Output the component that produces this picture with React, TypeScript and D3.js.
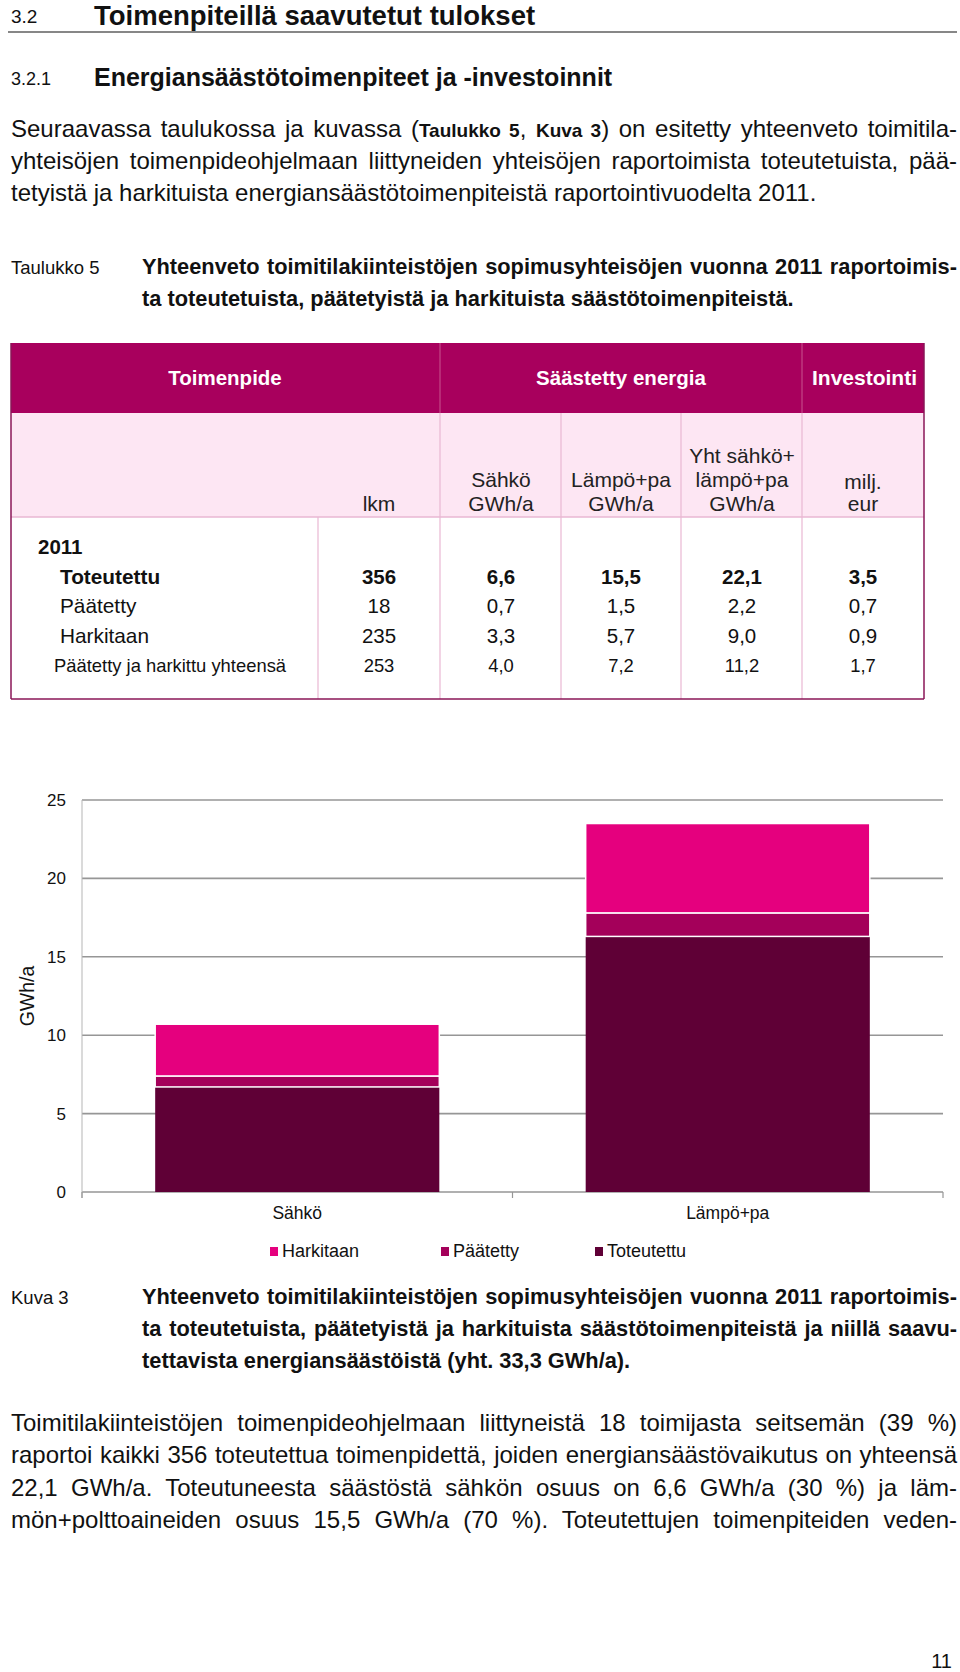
import React, { useLayoutEffect, useRef } from "react";
import * as d3 from "d3";

// ---------- data ----------
const categories = ["Sähkö", "Lämpö+pa"];
const seriesNames = ["Toteutettu", "Päätetty", "Harkitaan"];
const toteutettu = [6.7, 16.3];
const paatetty = [0.7, 1.5];
const harkitaan = [3.3, 5.7];
const yTicks = [0, 5, 10, 15, 20, 25];
const legendOrder = ["Harkitaan", "Päätetty", "Toteutettu"];

const tableRowLabels = ["Toteutettu", "Päätetty", "Harkitaan", "Päätetty ja harkittu yhteensä"];
const colLkm = ["356", "18", "235", "253"];
const colSahko = ["6,6", "0,7", "3,3", "4,0"];
const colLampo = ["15,5", "1,5", "5,7", "7,2"];
const colYht = ["22,1", "2,2", "9,0", "11,2"];
const colMilj = ["3,5", "0,7", "0,9", "1,7"];

const FONT = "'Liberation Sans', Arial, Helvetica, sans-serif";
const COLORS: Record<string, string> = {
  Toteutettu: "#5f0036",
  "Päätetty": "#a4005a",
  Harkitaan: "#e5007e",
};

type LineProps = {
  x: number;
  y: number;
  width?: number;
  size: number;
  weight?: string | number;
  anchor?: string;
  fill?: string;
  children: React.ReactNode;
};

function Line({ x, y, width, size, weight = "normal", anchor = "start", fill = "#111", children }: LineProps) {
  const ref = useRef<SVGTextElement>(null);
  useLayoutEffect(() => {
    const el = ref.current;
    if (!el || !width) return;
    el.setAttribute("word-spacing", "0");
    const len = el.getComputedTextLength();
    const spaces = (el.textContent || "").split(" ").length - 1;
    if (spaces > 0) el.setAttribute("word-spacing", String((width - len) / spaces));
  });
  return (
    <text ref={ref} x={x} y={y} fontSize={size} fontWeight={weight} textAnchor={anchor} fill={fill} fontFamily={FONT}>
      {children}
    </text>
  );
}

function Chart() {
  const left = 82, right = 943, top = 800, bottom = 1192;
  const x = d3.scaleBand<string>().domain(categories).range([left, right]).paddingInner(0.34).paddingOuter(0.17);
  const y = d3.scaleLinear().domain([0, 25]).range([bottom, top]);
  const rows = categories.map((c, i) => ({
    cat: c,
    Toteutettu: toteutettu[i],
    "Päätetty": paatetty[i],
    Harkitaan: harkitaan[i],
  }));
  const stack = d3.stack<any>().keys(seriesNames)(rows);
  const band = d3.scaleBand<string>().domain(categories).range([left, right]);
  const legendX = [270, 441, 595];
  return (
    <g fontFamily={FONT}>
      {yTicks.map((t) => (
        <g key={t}>
          <line x1={left} x2={right} y1={y(t)} y2={y(t)} stroke="#969696" strokeWidth={1.6} />
          <text x={66} y={y(t) + 6} fontSize={17} textAnchor="end" fill="#111">{t}</text>
        </g>
      ))}
      <line x1={left} x2={left} y1={top} y2={bottom + 6} stroke="#b5b5b5" strokeWidth={1} />
      {[left, band(categories[1])!, right].map((tx, i) => (
        <line key={i} x1={tx} x2={tx} y1={bottom} y2={bottom + 6} stroke="#969696" strokeWidth={1.2} />
      ))}
      {stack.map((s) => (
        <g key={s.key} fill={COLORS[s.key]}>
          {s.map((d, i) => (
            <rect
              key={i}
              x={x(categories[i])}
              width={x.bandwidth()}
              y={y(d[1])}
              height={y(d[0]) - y(d[1])}
              stroke="#fff"
              strokeWidth={s.key === "Toteutettu" ? 0 : 1.5}
            />
          ))}
        </g>
      ))}
      {categories.map((c) => (
        <text key={c} x={x(c)! + x.bandwidth() / 2} y={1219} fontSize={17.5} textAnchor="middle" fill="#111">{c}</text>
      ))}
      <text transform={`translate(34,${(top + bottom) / 2}) rotate(-90)`} fontSize={19.5} textAnchor="middle" fill="#111">GWh/a</text>
      {legendOrder.map((k, i) => {
        const lx = legendX[i];
        return (
          <g key={k}>
            <rect x={lx} y={1247} width={8} height={9} fill={COLORS[k]} />
            <text x={lx + 12} y={1257} fontSize={18} fill="#111">{k}</text>
          </g>
        );
      })}
    </g>
  );
}

function Table() {
  const L = 11, R = 924, T = 343, H1 = 413, H2 = 517, B = 699;
  const div = [318, 440, 561, 681, 802];
  const centers = [379, 501, 621, 742, 863];
  const pink = "#e9b7d3";
  const cols = [colLkm, colSahko, colLampo, colYht, colMilj];
  const rowY = [584, 613, 643, 672];
  return (
    <g fontFamily={FONT}>
      <defs>
        <clipPath id="tblclip">
          <rect x={L} y={T} width={R - L} height={B - T} />
        </clipPath>
      </defs>
      <rect x={L} y={T} width={R - L} height={H1 - T} fill="#a8005d" />
      <rect x={L} y={H1} width={R - L} height={H2 - H1} fill="#fde6f3" />
      <line x1={440} x2={440} y1={T} y2={H1} stroke="#c8558f" strokeWidth={1} />
      <line x1={802} x2={802} y1={T} y2={H1} stroke="#c8558f" strokeWidth={1} />
      {div.slice(1).map((d) => (
        <line key={d} x1={d} x2={d} y1={H1} y2={H2} stroke={pink} strokeWidth={1.2} />
      ))}
      <line x1={L} x2={R} y1={H2} y2={H2} stroke={pink} strokeWidth={1.5} />
      {div.map((d) => (
        <line key={"b" + d} x1={d} x2={d} y1={H2} y2={B} stroke={pink} strokeWidth={1.2} />
      ))}
      <line x1={L} x2={L} y1={T} y2={B} stroke="#8a1657" strokeWidth={1.5} />
      <line x1={R} x2={R} y1={T} y2={B} stroke="#8a1657" strokeWidth={1.5} />
      <line x1={L} x2={R} y1={B} y2={B} stroke="#8a1657" strokeWidth={1.5} />
      <text x={225} y={385} fontSize={20.5} fontWeight="bold" fill="#fff" textAnchor="middle">Toimenpide</text>
      <text x={621} y={385} fontSize={20.5} fontWeight="bold" fill="#fff" textAnchor="middle">Säästetty energia</text>
      <text x={812} y={385} fontSize={21} fontWeight="bold" fill="#fff" clipPath="url(#tblclip)">Investointi</text>
      <g fontSize={21} fill="#222" textAnchor="middle">
        <text x={centers[0]} y={511}>lkm</text>
        <text x={centers[1]} y={487}>Sähkö</text>
        <text x={centers[1]} y={511}>GWh/a</text>
        <text x={centers[2]} y={487}>Lämpö+pa</text>
        <text x={centers[2]} y={511}>GWh/a</text>
        <text x={centers[3]} y={463}>Yht sähkö+</text>
        <text x={centers[3]} y={487}>lämpö+pa</text>
        <text x={centers[3]} y={511}>GWh/a</text>
        <text x={centers[4]} y={489}>milj.</text>
        <text x={centers[4]} y={511}>eur</text>
      </g>
      <text x={38} y={554} fontSize={20.5} fontWeight="bold" fill="#111">2011</text>
      {tableRowLabels.map((lab, r) => (
        <g key={lab} fontWeight={r === 0 ? "bold" : "normal"} fill="#111">
          <text x={r === 3 ? 54 : 60} y={rowY[r]} fontSize={r === 3 ? 18.4 : 20.8}>{lab}</text>
          {cols.map((c, ci) => (
            <text key={ci} x={centers[ci]} y={rowY[r]} fontSize={r === 3 ? 18.4 : 20.5} textAnchor="middle">{c[r]}</text>
          ))}
        </g>
      ))}
    </g>
  );
}

export default function App() {
  const W = 946;
  return (
    <svg width={960} height={1672} style={{ position: "absolute", left: 0, top: 0, background: "#fff" }} fontFamily={FONT}>
      <rect width={960} height={1672} fill="#fff" />
      <text x={11} y={23} fontSize={19} fill="#111">3.2</text>
      <text x={94} y={25} fontSize={27.5} fontWeight="bold" fill="#111">Toimenpiteillä saavutetut tulokset</text>
      <line x1={8} x2={957} y1={32} y2={32} stroke="#111" strokeWidth={1.2} />
      <text x={11} y={85} fontSize={18} fill="#111">3.2.1</text>
      <text x={94} y={86} fontSize={25} fontWeight="bold" fill="#111">Energiansäästötoimenpiteet ja -investoinnit</text>

      <Line x={11} y={137} width={W} size={24}>
        Seuraavassa taulukossa ja kuvassa (<tspan fontWeight="bold" fontSize={19}>Taulukko 5</tspan>, <tspan fontWeight="bold" fontSize={19}>Kuva 3</tspan>) on esitetty yhteenveto toimitila-
      </Line>
      <Line x={11} y={169} width={W} size={24}>yhteisöjen toimenpideohjelmaan liittyneiden yhteisöjen raportoimista toteutetuista, pää-</Line>
      <Line x={11} y={201} size={24}>tetyistä ja harkituista energiansäästötoimenpiteistä raportointivuodelta 2011.</Line>

      <text x={11} y={274} fontSize={18.5} fill="#111">Taulukko 5</text>
      <Line x={142} y={274} width={815} size={21.8} weight="bold">Yhteenveto toimitilakiinteistöjen sopimusyhteisöjen vuonna 2011 raportoimis-</Line>
      <Line x={142} y={306} size={21.8} weight="bold">ta toteutetuista, päätetyistä ja harkituista säästötoimenpiteistä.</Line>

      <Table />
      <Chart />

      <text x={11} y={1304} fontSize={18.5} fill="#111">Kuva 3</text>
      <Line x={142} y={1304} width={815} size={21.8} weight="bold">Yhteenveto toimitilakiinteistöjen sopimusyhteisöjen vuonna 2011 raportoimis-</Line>
      <Line x={142} y={1336} width={815} size={21.8} weight="bold">ta toteutetuista, päätetyistä ja harkituista säästötoimenpiteistä ja niillä saavu-</Line>
      <Line x={142} y={1368} size={21.8} weight="bold">tettavista energiansäästöistä (yht. 33,3 GWh/a).</Line>

      <Line x={11} y={1431} width={W} size={24}>Toimitilakiinteistöjen toimenpideohjelmaan liittyneistä 18 toimijasta seitsemän (39 %)</Line>
      <Line x={11} y={1463} width={W} size={24}>raportoi kaikki 356 toteutettua toimenpidettä, joiden energiansäästövaikutus on yhteensä</Line>
      <Line x={11} y={1496} width={W} size={24}>22,1 GWh/a. Toteutuneesta säästöstä sähkön osuus on 6,6 GWh/a (30 %) ja läm-</Line>
      <Line x={11} y={1528} width={W} size={24}>mön+polttoaineiden osuus 15,5 GWh/a (70 %). Toteutettujen toimenpiteiden veden-</Line>

      <text x={952} y={1668} fontSize={20} textAnchor="end" fill="#111">11</text>
    </svg>
  );
}
